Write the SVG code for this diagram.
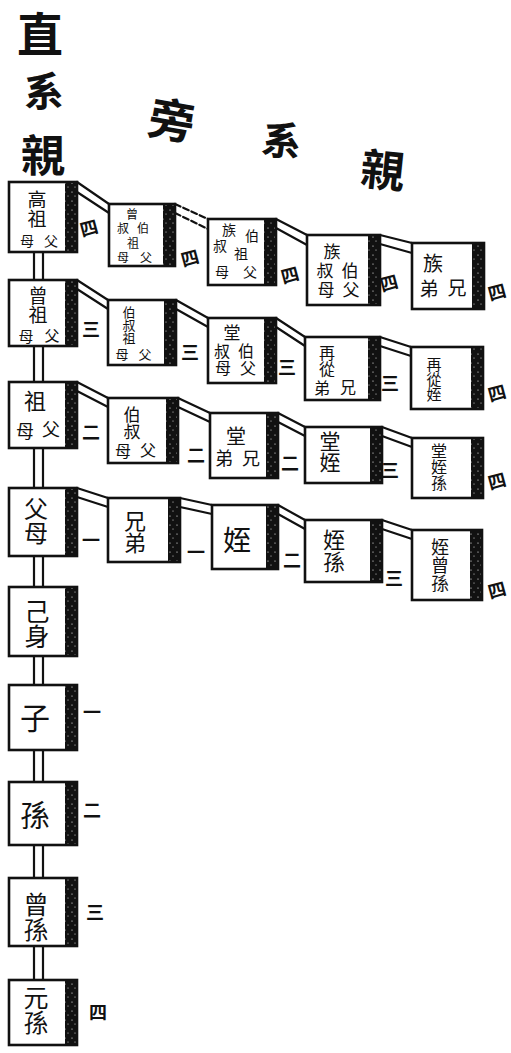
<svg xmlns="http://www.w3.org/2000/svg" width="511" height="1053" viewBox="0 0 511 1053">
<defs>
<pattern id="speck" width="7" height="9" patternUnits="userSpaceOnUse">
<rect width="7" height="9" fill="#111"/>
<circle cx="2" cy="3" r="0.6" fill="#fff"/>
<circle cx="5" cy="7" r="0.5" fill="#fff"/>
</pattern>
</defs>
<style>
.box{fill:#fff;stroke:#111;stroke-width:2.6}
.band{fill:url(#speck)}
.c{stroke:#111;stroke-width:2.2;fill:none;stroke-linecap:round}
.d{stroke-dasharray:6 3}
text{font-family:"Noto Sans CJK TC","Noto Sans CJK SC",sans-serif;fill:#111;writing-mode:vertical-rl;text-orientation:upright;text-anchor:middle;dominant-baseline:central}
.t{font-weight:bold}
.n{font-size:18px;font-weight:bold}
</style>
<rect width="511" height="1053" fill="#fff"/>

<g id="title">
<text class="t" x="40" y="34" font-size="46">直</text>
<text class="t" x="44" y="91" font-size="40">系</text>
<text class="t" x="43" y="155" font-size="44">親</text>
<text class="t" x="172" y="120" font-size="46" transform="rotate(10 172 120)">旁</text>
<text class="t" x="282" y="140" font-size="40" transform="rotate(8 282 140)">系</text>
<text class="t" x="383" y="170" font-size="44" transform="rotate(6 383 170)">親</text>
</g>

<g id="connectors">
<line class="c" x1="34" y1="250" x2="34" y2="981"/>
<line class="c" x1="43" y1="250" x2="43" y2="981"/>
<line class="c" x1="77" y1="182" x2="109" y2="204"/><line class="c" x1="77" y1="192" x2="109" y2="213"/>
<line class="c d" x1="175" y1="204" x2="208" y2="219"/><line class="c d" x1="175" y1="213" x2="208" y2="229"/>
<line class="c" x1="276" y1="219" x2="307" y2="235"/><line class="c" x1="276" y1="228" x2="307" y2="245"/>
<line class="c" x1="380" y1="235" x2="412" y2="243"/><line class="c" x1="380" y1="244" x2="412" y2="253"/>
<line class="c" x1="77" y1="280" x2="108" y2="300"/><line class="c" x1="77" y1="289" x2="108" y2="309"/>
<line class="c" x1="176" y1="300" x2="208" y2="318"/><line class="c" x1="176" y1="309" x2="208" y2="327"/>
<line class="c" x1="276" y1="318" x2="305" y2="337"/><line class="c" x1="276" y1="327" x2="305" y2="346"/>
<line class="c" x1="380" y1="337" x2="411" y2="347"/><line class="c" x1="380" y1="346" x2="411" y2="356"/>
<line class="c" x1="77" y1="382" x2="108" y2="398"/><line class="c" x1="77" y1="391" x2="108" y2="407"/>
<line class="c" x1="178" y1="398" x2="210" y2="413"/><line class="c" x1="178" y1="407" x2="210" y2="422"/>
<line class="c" x1="278" y1="413" x2="305" y2="427"/><line class="c" x1="278" y1="422" x2="305" y2="436"/>
<line class="c" x1="382" y1="427" x2="412" y2="438"/><line class="c" x1="382" y1="436" x2="412" y2="447"/>
<line class="c" x1="77" y1="488" x2="108" y2="498"/><line class="c" x1="77" y1="497" x2="108" y2="507"/>
<line class="c" x1="180" y1="498" x2="212" y2="505"/><line class="c" x1="180" y1="507" x2="212" y2="514"/>
<line class="c" x1="278" y1="505" x2="305" y2="520"/><line class="c" x1="278" y1="514" x2="305" y2="529"/>
<line class="c" x1="382" y1="520" x2="412" y2="530"/><line class="c" x1="382" y1="529" x2="412" y2="539"/>
</g>

<g id="n-gaozu"><rect class="box" x="9" y="182" width="68" height="70"/><rect class="band" x="65" y="183" width="11" height="68"/>
<text x="37" y="209" font-size="19">高祖</text><text x="51" y="241" font-size="14">父</text><text x="27" y="241" font-size="14">母</text></g>
<g id="n-zengbo"><rect class="box" x="109" y="204" width="66" height="62"/><rect class="band" x="163" y="205" width="11" height="60"/>
<text x="132" y="214" font-size="12">曾</text><text x="143" y="228" font-size="12">伯</text><text x="123" y="228" font-size="12">叔</text><text x="133" y="243" font-size="12">祖</text><text x="146" y="257" font-size="12">父</text><text x="123" y="257" font-size="12">母</text></g>
<g id="n-zubozu"><rect class="box" x="208" y="219" width="68" height="66"/><rect class="band" x="264" y="220" width="11" height="64"/>
<text x="229" y="230" font-size="14">族</text><text x="252" y="236" font-size="14">伯</text><text x="220" y="246" font-size="14">叔</text><text x="241" y="254" font-size="14">祖</text><text x="250" y="272" font-size="14">父</text><text x="222" y="272" font-size="14">母</text></g>
<g id="n-zubo"><rect class="box" x="307" y="235" width="73" height="70"/><rect class="band" x="368" y="236" width="11" height="68"/>
<text x="332" y="252" font-size="17">族</text><text x="350" y="271" font-size="17">伯</text><text x="325" y="271" font-size="17">叔</text><text x="351" y="290" font-size="17">父</text><text x="326" y="290" font-size="17">母</text></g>
<g id="n-zuxiong"><rect class="box" x="412" y="243" width="72" height="66"/><rect class="band" x="472" y="244" width="11" height="64"/>
<text x="433" y="263" font-size="20">族</text><text x="457" y="288" font-size="19">兄</text><text x="429" y="289" font-size="19">弟</text></g>

<g id="n-zengzu"><rect class="box" x="9" y="280" width="68" height="66"/><rect class="band" x="65" y="281" width="11" height="64"/>
<text x="38" y="305" font-size="19">曾祖</text><text x="52" y="335" font-size="15">父</text><text x="26" y="336" font-size="15">母</text></g>
<g id="n-bozu"><rect class="box" x="108" y="300" width="68" height="65"/><rect class="band" x="164" y="301" width="11" height="63"/>
<text x="129" y="325" font-size="13">伯叔祖</text><text x="145" y="354" font-size="13">父</text><text x="122" y="354" font-size="13">母</text></g>
<g id="n-tangbo"><rect class="box" x="208" y="318" width="68" height="65"/><rect class="band" x="264" y="319" width="11" height="63"/>
<text x="232" y="333" font-size="17">堂</text><text x="246" y="351" font-size="16">伯</text><text x="222" y="351" font-size="16">叔</text><text x="248" y="368" font-size="16">父</text><text x="223" y="368" font-size="16">母</text></g>
<g id="n-zaicongxiong"><rect class="box" x="305" y="337" width="75" height="63"/><rect class="band" x="368" y="338" width="11" height="61"/>
<text x="327" y="361" font-size="16">再從</text><text x="348" y="387" font-size="16">兄</text><text x="322" y="388" font-size="16">弟</text></g>
<g id="n-zaicongzhi"><rect class="box" x="411" y="347" width="72" height="62"/><rect class="band" x="471" y="348" width="11" height="60"/>
<text x="434" y="379" font-size="15">再從姪</text></g>

<g id="n-zu"><rect class="box" x="9" y="382" width="68" height="66"/><rect class="band" x="65" y="383" width="11" height="64"/>
<text x="35" y="401" font-size="22">祖</text><text x="51" y="429" font-size="18">父</text><text x="25" y="431" font-size="18">母</text></g>
<g id="n-boshu"><rect class="box" x="108" y="398" width="70" height="65"/><rect class="band" x="166" y="399" width="11" height="63"/>
<text x="132" y="423" font-size="17">伯叔</text><text x="148" y="450" font-size="16">父</text><text x="123" y="451" font-size="16">母</text></g>
<g id="n-tangxiong"><rect class="box" x="210" y="413" width="68" height="65"/><rect class="band" x="266" y="414" width="11" height="63"/>
<text x="236" y="436" font-size="20">堂</text><text x="251" y="458" font-size="18">兄</text><text x="224" y="458" font-size="18">弟</text></g>
<g id="n-tangzhi"><rect class="box" x="305" y="427" width="77" height="56"/><rect class="band" x="370" y="428" width="11" height="54"/>
<text x="330" y="452" font-size="21">堂姪</text></g>
<g id="n-tangzhisun"><rect class="box" x="412" y="438" width="71" height="60"/><rect class="band" x="471" y="439" width="11" height="58"/>
<text x="439" y="467" font-size="16">堂姪孫</text></g>

<g id="n-fumu"><rect class="box" x="9" y="488" width="68" height="68"/><rect class="band" x="65" y="489" width="11" height="66"/>
<text x="36" y="521" font-size="24">父母</text></g>
<g id="n-xiongdi"><rect class="box" x="108" y="498" width="72" height="64"/><rect class="band" x="168" y="499" width="11" height="62"/>
<text x="135" y="532" font-size="22">兄弟</text></g>
<g id="n-zhi"><rect class="box" x="212" y="505" width="66" height="64"/><rect class="band" x="266" y="506" width="11" height="62"/>
<text x="237" y="540" font-size="28">姪</text></g>
<g id="n-zhisun"><rect class="box" x="305" y="520" width="77" height="62"/><rect class="band" x="370" y="521" width="11" height="60"/>
<text x="334" y="551" font-size="22">姪孫</text></g>
<g id="n-zhizengsun"><rect class="box" x="412" y="530" width="70" height="70"/><rect class="band" x="470" y="531" width="11" height="68"/>
<text x="440" y="565" font-size="18">姪曾孫</text></g>

<g id="n-jishen"><rect class="box" x="9" y="587" width="68" height="69"/><rect class="band" x="65" y="588" width="11" height="67"/>
<text x="37" y="624" font-size="25">己身</text></g>
<g id="n-zi"><rect class="box" x="9" y="685" width="68" height="65"/><rect class="band" x="65" y="686" width="11" height="63"/>
<text x="35" y="718" font-size="30">子</text></g>
<g id="n-sun"><rect class="box" x="9" y="782" width="68" height="63"/><rect class="band" x="65" y="783" width="11" height="61"/>
<text x="35" y="815" font-size="30">孫</text></g>
<g id="n-zengsun"><rect class="box" x="9" y="878" width="68" height="68"/><rect class="band" x="65" y="879" width="11" height="66"/>
<text x="36" y="917" font-size="25">曾孫</text></g>
<g id="n-yuansun"><rect class="box" x="9" y="980" width="68" height="65"/><rect class="band" x="65" y="981" width="11" height="63"/>
<text x="36" y="1010" font-size="25">元孫</text></g>

<g id="degrees">
<text class="n" x="89" y="228" transform="rotate(-15 89 228)">四</text>
<text class="n" x="190" y="258" transform="rotate(-15 190 258)">四</text>
<text class="n" x="290" y="275" transform="rotate(-15 290 275)">四</text>
<text class="n" x="389" y="283" transform="rotate(-15 389 283)">四</text>
<text class="n" x="497" y="292" transform="rotate(-15 497 292)">四</text>
<text class="n" x="91" y="329">三</text>
<text class="n" x="190" y="352">三</text>
<text class="n" x="287" y="367">三</text>
<text class="n" x="390" y="383">三</text>
<text class="n" x="497" y="393" transform="rotate(-15 497 393)">四</text>
<text class="n" x="91" y="432">二</text>
<text class="n" x="196" y="455">二</text>
<text class="n" x="290" y="463">二</text>
<text class="n" x="390" y="470">三</text>
<text class="n" x="497" y="481" transform="rotate(-15 497 481)">四</text>
<text class="n" x="91" y="540">一</text>
<text class="n" x="196" y="552">一</text>
<text class="n" x="292" y="560">二</text>
<text class="n" x="394" y="578">三</text>
<text class="n" x="497" y="590" transform="rotate(-15 497 590)">四</text>
<text class="n" x="92" y="712">一</text>
<text class="n" x="92" y="810">二</text>
<text class="n" x="95" y="912">三</text>
<text class="n" x="98" y="1012">四</text>
</g>
</svg>
